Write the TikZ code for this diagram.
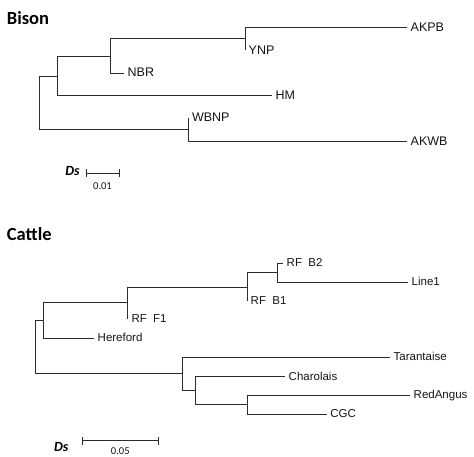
\documentclass[tikz,border=0pt]{standalone}
\usepackage{fontspec}
\setmainfont{Liberation Sans}
\newfontfamily\titlefont{Carlito}
\usetikzlibrary{arrows.meta}
\definecolor{cLine}{HTML}{2c2c2c}
\definecolor{cText}{HTML}{141414}
\tikzset{
  branch/.style={draw=cLine,line width=1pt},
  thinbranch/.style={draw=cLine,line width=0.85pt},
  taxon/.style={anchor=west,inner xsep=3.5pt,inner ysep=0pt,text height=0.72em,text depth=0pt,text=cText},
  bisontaxon/.style={taxon,font=\fontsize{12.5}{14}\selectfont},
  cattletaxon/.style={taxon,font=\fontsize{11.5}{13}\selectfont},
  panel/.style={anchor=base west,inner sep=0pt,font=\titlefont\bfseries\fontsize{18.5}{20}\selectfont},
  dslabel/.style={inner sep=0pt,font=\titlefont\bfseries\itshape\fontsize{14}{16}\selectfont},
  scalebar/.style={{Bar[width=8pt]}-{Bar[width=8pt]},draw=cLine,line width=1pt},
  scaletext/.style={inner sep=0pt,text=cText,font=\titlefont\fontsize{10.5}{12}\selectfont},
}

\begin{document}
\begin{tikzpicture}[x=1pt,y=-1pt]
\useasboundingbox (0,0) rectangle (474,457);

% Bison
\node[panel] (bison) at (6.7,25) {Bison};
\coordinate (b0) at (39.3,103.3);
\coordinate (b1) at (57,76.5);
\coordinate (b2) at (110.7,56.3);
\coordinate (b3) at (245,39);
\coordinate (b4) at (188.3,130);
\node[bisontaxon] (akpb) at (407,27.7) {AKPB};
\node[bisontaxon] (ynp) at (245,50.5) {YNP};
\node[bisontaxon] (nbr) at (124,73.3) {NBR};
\node[bisontaxon] (hm) at (272,96) {HM};
\node[bisontaxon] (wbnp) at (188.3,118.3) {WBNP};
\node[bisontaxon] (akwb) at (407,142) {AKWB};
\draw[branch] (b0) |- (b1);
\draw[branch] (b0) |- (b4);
\draw[branch] (b1) |- (b2);
\draw[branch] (b1) |- (hm.west);
\draw[branch] (b2) |- (b3);
\draw[branch] (b2) |- (nbr.west);
\draw[branch] (b3) |- (akpb.west);
\draw[branch] (b3) |- (ynp.west);
\draw[branch] (b4) |- (wbnp.west);
\draw[branch] (b4) |- (akwb.west);

\node[dslabel] (dsb) at (72.5,171) {Ds};
\coordinate (sbl) at (86,173.3);
\coordinate (sbr) at (120,173.3);
\draw[scalebar] (sbl) -- (sbr);
\node[scaletext] (sbt) at (102.5,186) {0.01};

% Cattle
\node[panel] (cattle) at (6.7,240.3) {Cattle};
\coordinate (c0) at (35,347.3);
\coordinate (c1) at (43.5,320.8);
\coordinate (c2) at (127.8,302.9);
\coordinate (c3) at (247,287);
\coordinate (c4) at (277,272.8);
\coordinate (c5) at (182.3,373.7);
\coordinate (c6) at (195,390.8);
\coordinate (c7) at (247.3,404.5);
\node[cattletaxon] (rfb2) at (283,263.3) {RF\ \ B2};
\node[cattletaxon] (line1) at (408,282.3) {Line1};
\node[cattletaxon] (rfb1) at (247,300.7) {RF\ \ B1};
\node[cattletaxon] (rff1) at (127.8,319) {RF\ \ F1};
\node[cattletaxon] (hereford) at (94,338.3) {Hereford};
\node[cattletaxon] (tarantaise) at (390,357.3) {Tarantaise};
\node[cattletaxon] (charolais) at (285,376.7) {Charolais};
\node[cattletaxon] (redangus) at (410,395) {RedAngus};
\node[cattletaxon] (cgc) at (326.7,414) {CGC};
\draw[thinbranch] (c0) |- (c1);
\draw[thinbranch] (c0) |- (c5);
\draw[thinbranch] (c1) |- (c2);
\draw[thinbranch] (c1) |- (hereford.west);
\draw[thinbranch] (c2) |- (c3);
\draw[thinbranch] (c2) |- (rff1.west);
\draw[thinbranch] (c3) |- (c4);
\draw[thinbranch] (c3) |- (rfb1.west);
\draw[thinbranch] (c4) |- (rfb2.west);
\draw[thinbranch] (c4) |- (line1.west);
\draw[thinbranch] (c5) |- (tarantaise.west);
\draw[thinbranch] (c5) |- (c6);
\draw[thinbranch] (c6) |- (charolais.west);
\draw[thinbranch] (c6) |- (c7);
\draw[thinbranch] (c7) |- (redangus.west);
\draw[thinbranch] (c7) |- (cgc.west);

\node[dslabel] (dsc) at (61.3,447) {Ds};
\coordinate (scl) at (81.7,440.7);
\coordinate (scr) at (158.7,440.7);
\draw[scalebar] (scl) -- (scr);
\node[scaletext] (sct) at (120.3,451.5) {0.05};
\end{tikzpicture}
\end{document}
